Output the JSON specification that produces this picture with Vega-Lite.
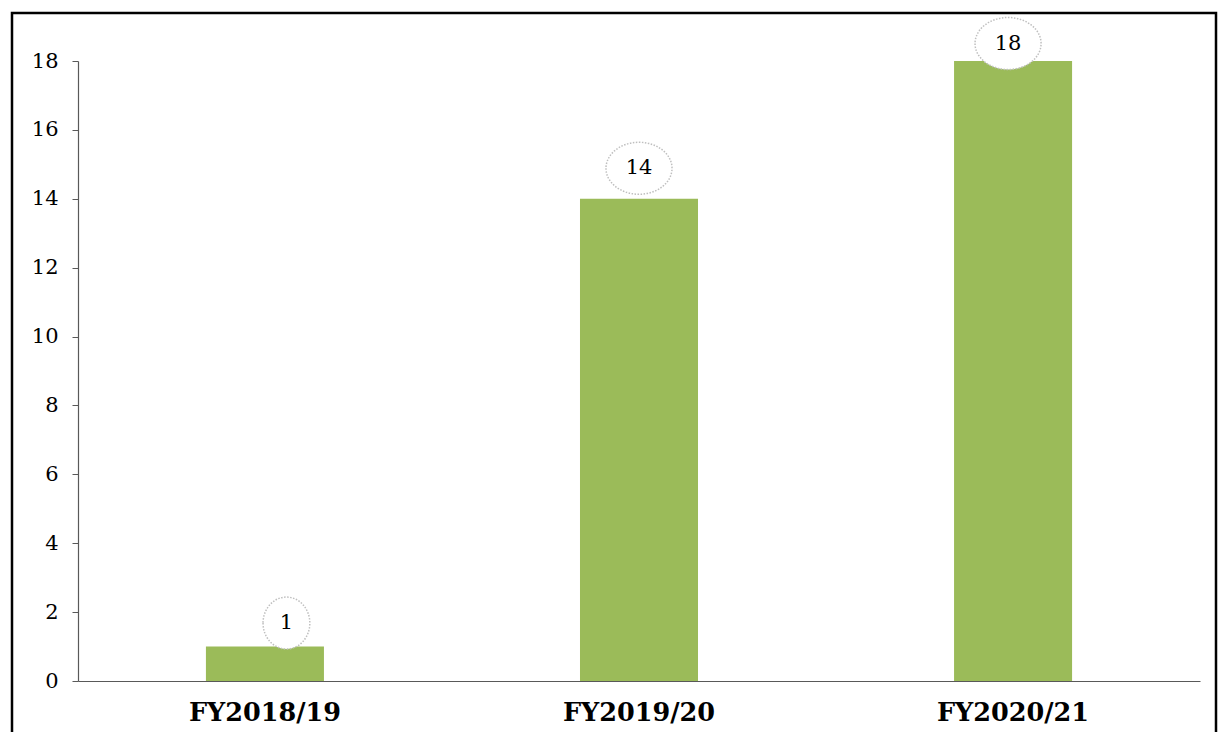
{
  "$schema": "https://vega.github.io/schema/vega-lite/v6.json",
  "width": 1122,
  "height": 620,
  "autosize": {"type": "none"},
  "padding": {"left": 78, "top": 61, "right": 19, "bottom": 51},
  "background": "white",
  "config": {"view": {"stroke": null}, "font": "DejaVu Serif"},
  "datasets": {
    "fy": [
      {"year": "FY2018/19", "value": 1},
      {"year": "FY2019/20", "value": 14},
      {"year": "FY2020/21", "value": 18}
    ],
    "frame": [{"a": 0}]
  },
  "layer": [
    {
      "data": {"name": "frame"},
      "mark": {"type": "rect", "fill": "transparent", "stroke": "black", "strokeWidth": 2.5},
      "encoding": {
        "x": {"datum": 0, "type": "quantitative", "scale": {"domain": [0.054817, 0.98671], "nice": false, "zero": false}, "axis": null},
        "x2": {"datum": 1},
        "y": {"datum": 0, "type": "quantitative", "scale": {"domain": [0.10577, 0.93577], "nice": false, "zero": false}, "axis": null},
        "y2": {"datum": 1}
      }
    },
    {
      "data": {"name": "fy"},
      "encoding": {
        "x": {
          "field": "year", "type": "nominal", "sort": null,
          "scale": {"paddingInner": 0.6845, "paddingOuter": 0.342},
          "axis": {"title": null, "labelAngle": 0, "labelFont": "DejaVu Serif", "labelFontWeight": "bold", "labelFontSize": 25.5, "labelColor": "black", "ticks": false, "domainColor": "#595959", "domainWidth": 1.2, "labelPadding": 19, "zindex": 1}
        },
        "y": {
          "field": "value", "type": "quantitative",
          "scale": {"domain": [0, 18], "nice": false},
          "axis": {"title": null, "values": [0, 2, 4, 6, 8, 10, 12, 14, 16, 18], "grid": false, "tickSize": 6, "tickColor": "#595959", "domainColor": "#595959", "domainWidth": 1.2, "labelFont": "DejaVu Serif", "labelFontSize": 21, "labelColor": "black", "labelPadding": 14}
        }
      },
      "layer": [
        {"mark": {"type": "bar", "color": "#9BBB59"}},
        {
          "transform": [{"filter": "datum.value == 1"}],
          "layer": [
            {"mark": {"type": "point", "shape": "M -0.9 0 A 0.9 1 0 1 0 0.9 0 A 0.9 1 0 1 0 -0.9 0 Z", "size": 2704, "filled": true, "fill": "white", "opacity": 1, "stroke": "#BFBFBF", "strokeWidth": 1.5, "strokeDash": [1.5, 1.5], "xOffset": 21.5, "yOffset": -23.5}},
            {"mark": {"type": "text", "fontSize": 21, "color": "black", "baseline": "middle", "align": "center", "xOffset": 21.5, "yOffset": -23.5}, "encoding": {"text": {"field": "value"}}}
          ]
        },
        {
          "transform": [{"filter": "datum.value == 14"}],
          "layer": [
            {"mark": {"type": "point", "shape": "M -1.27 0 A 1.27 1 0 1 0 1.27 0 A 1.27 1 0 1 0 -1.27 0 Z", "size": 2704, "filled": true, "fill": "white", "opacity": 1, "stroke": "#BFBFBF", "strokeWidth": 1.5, "strokeDash": [1.5, 1.5], "xOffset": 0, "yOffset": -30.5}},
            {"mark": {"type": "text", "fontSize": 21, "color": "black", "baseline": "middle", "align": "center", "xOffset": 0, "yOffset": -30.5}, "encoding": {"text": {"field": "value"}}}
          ]
        },
        {
          "transform": [{"filter": "datum.value == 18"}],
          "layer": [
            {"mark": {"type": "point", "shape": "M -1.27 0 A 1.27 1 0 1 0 1.27 0 A 1.27 1 0 1 0 -1.27 0 Z", "size": 2704, "filled": true, "fill": "white", "opacity": 1, "stroke": "#BFBFBF", "strokeWidth": 1.5, "strokeDash": [1.5, 1.5], "xOffset": -5, "yOffset": -17.5}},
            {"mark": {"type": "text", "fontSize": 21, "color": "black", "baseline": "middle", "align": "center", "xOffset": -5, "yOffset": -17.5}, "encoding": {"text": {"field": "value"}}}
          ]
        }
      ]
    }
  ],
  "resolve": {"scale": {"x": "independent", "y": "independent"}}
}
